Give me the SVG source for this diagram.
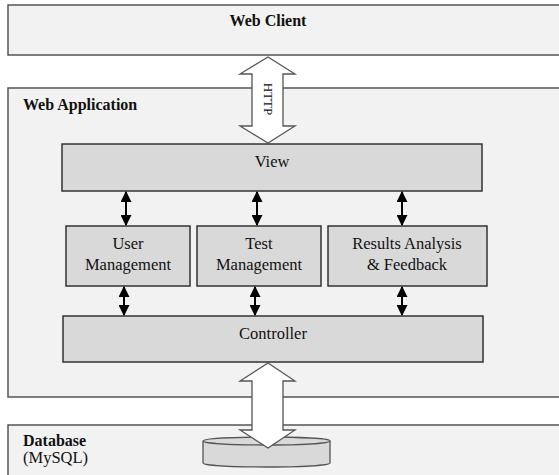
<svg xmlns="http://www.w3.org/2000/svg" width="559" height="475" viewBox="0 0 559 475">
<defs>
<marker id="ah" viewBox="0 0 10 10" refX="9" refY="5" markerWidth="5.5" markerHeight="5.5" orient="auto-start-reverse" markerUnits="strokeWidth"><path d="M0,0 L10,5 L0,10 z" fill="#000"/></marker>
<style>
.outer{fill:#f2f2f2;stroke:#555;stroke-width:1.5}
.box{fill:#d9d9d9;stroke:#333;stroke-width:1.5}
.big{fill:#fff;stroke:#555;stroke-width:1.3}
.c{stroke:#000;stroke-width:2;fill:none;marker-start:url(#ah);marker-end:url(#ah)}
</style>
</defs>
<rect width="559" height="475" fill="#fff"/>
<g font-family="Liberation Serif" font-size="16.5" fill="#111">
<g id="web-client">
<rect class="outer" x="8" y="5" width="560" height="50"/>
<text x="268" y="26" text-anchor="middle" font-weight="bold" font-size="16">Web Client</text>
</g>
<g id="web-application">
<rect class="outer" x="8" y="88" width="560" height="309"/>
<text x="23" y="110" font-weight="bold" font-size="16">Web Application</text>
</g>
<g id="database">
<rect class="outer" x="8" y="425" width="560" height="56"/>
<text x="23" y="446" font-weight="bold" font-size="16">Database</text>
<text x="23" y="463">(MySQL)</text>
<path d="M203,441 L203,463 A63.5,4 0 0 0 330,463 L330,441" fill="#d9d9d9" stroke="#555" stroke-width="1.3"/>
<ellipse cx="266.5" cy="441" rx="63.5" ry="4" fill="#d9d9d9" stroke="#555" stroke-width="1.3"/>
</g>
<g id="view">
<rect class="box" x="62" y="144" width="420" height="47"/>
<text x="272" y="167" text-anchor="middle">View</text>
</g>
<g id="user-management">
<rect class="box" x="66" y="226" width="124" height="60"/>
<text x="128" y="249" text-anchor="middle">User</text>
<text x="128" y="270" text-anchor="middle">Management</text>
</g>
<g id="test-management">
<rect class="box" x="197" y="226" width="124" height="60"/>
<text x="259" y="249" text-anchor="middle">Test</text>
<text x="259" y="270" text-anchor="middle">Management</text>
</g>
<g id="results-analysis">
<rect class="box" x="328" y="226" width="159" height="60"/>
<text x="407" y="249" text-anchor="middle">Results Analysis</text>
<text x="407" y="270" text-anchor="middle">&amp; Feedback</text>
</g>
<g id="controller">
<rect class="box" x="63" y="316" width="420" height="46"/>
<text x="273" y="339" text-anchor="middle">Controller</text>
</g>
<g id="connectors">
<path class="big" d="M268,57 L295,74 L283,74 L283,126 L295,126 L268,143 L240,126 L252,126 L252,74 L240,74 Z"/>
<text font-size="13" transform="translate(264,99) rotate(90)" text-anchor="middle">HTTP</text>
<path class="big" d="M268,363 L295,381 L283,381 L283,430 L295,430 L268,448 L240,430 L252,430 L252,381 L240,381 Z"/>
<line class="c" x1="126" y1="192" x2="126" y2="225"/>
<line class="c" x1="257" y1="192" x2="257" y2="225"/>
<line class="c" x1="402" y1="192" x2="402" y2="225"/>
<line class="c" x1="124" y1="287" x2="124" y2="315"/>
<line class="c" x1="255" y1="287" x2="255" y2="315"/>
<line class="c" x1="402" y1="287" x2="402" y2="315"/>
</g>
</g>
</svg>
